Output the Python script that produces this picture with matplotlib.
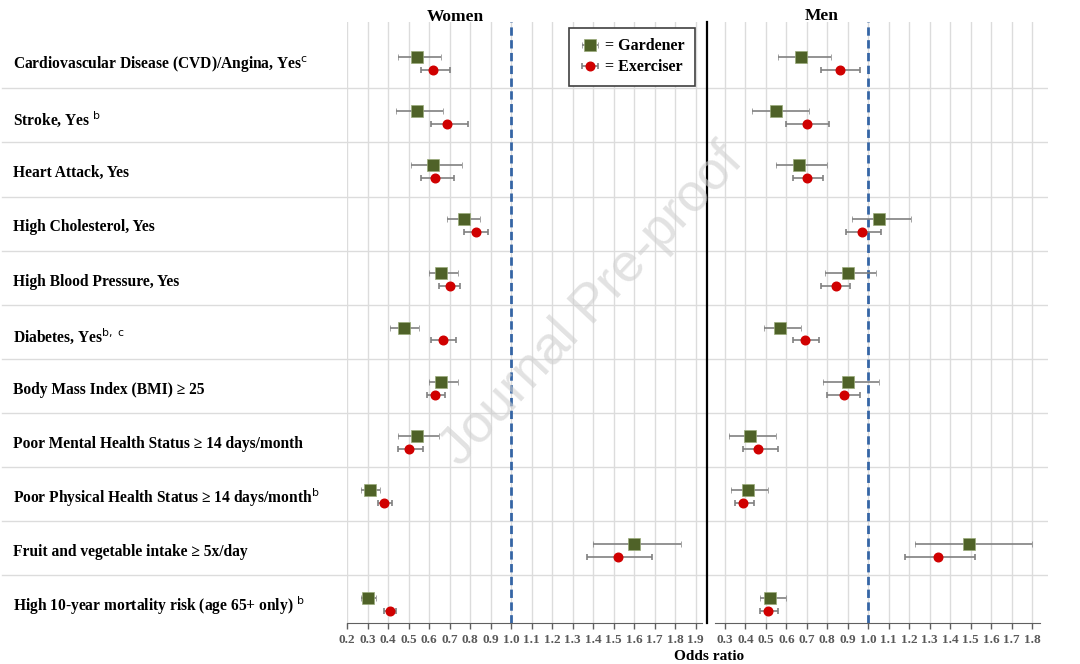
import matplotlib as mpl
mpl.use("Agg")
import matplotlib.pyplot as plt
import numpy as np

plt.rcParams['font.family'] = ['Liberation Serif', 'DejaVu Serif']
plt.rcParams['mathtext.fontset'] = 'dejavusans'

# row labels, top to bottom
labels = [
    r"Cardiovascular Disease (CVD)/Angina, Yes$^{\mathrm{c}}$",
    r"Stroke, Yes $^{\mathrm{b}}$",
    "Heart Attack, Yes",
    "High Cholesterol, Yes",
    "High Blood Pressure, Yes",
    r"Diabetes, Yes$^{\mathrm{b,\ c}}$",
    "Body Mass Index (BMI) ≥ 25",
    "Poor Mental Health Status ≥ 14 days/month",
    r"Poor Physical Health Status ≥ 14 days/month$^{\mathrm{b}}$",
    "Fruit and vegetable intake ≥ 5x/day",
    r"High 10-year mortality risk (age 65+ only) $^{\mathrm{b}}$",
]

# women: odds ratio, lower CI, upper CI
w_gard = [0.54, 0.54, 0.62, 0.77, 0.66, 0.48, 0.66, 0.54, 0.31, 1.60, 0.30]
w_gard_lo = [0.45, 0.44, 0.51, 0.69, 0.60, 0.41, 0.60, 0.45, 0.27, 1.40, 0.27]
w_gard_hi = [0.66, 0.67, 0.76, 0.85, 0.74, 0.55, 0.74, 0.65, 0.36, 1.83, 0.34]
w_exer = [0.62, 0.69, 0.63, 0.83, 0.70, 0.67, 0.63, 0.50, 0.38, 1.52, 0.41]
w_exer_lo = [0.56, 0.61, 0.56, 0.77, 0.65, 0.61, 0.59, 0.45, 0.35, 1.37, 0.38]
w_exer_hi = [0.70, 0.79, 0.72, 0.89, 0.75, 0.73, 0.68, 0.57, 0.42, 1.69, 0.44]

# men
m_gard = [0.67, 0.55, 0.66, 1.05, 0.90, 0.57, 0.90, 0.42, 0.41, 1.49, 0.52]
m_gard_lo = [0.56, 0.43, 0.55, 0.92, 0.79, 0.49, 0.78, 0.32, 0.33, 1.23, 0.47]
m_gard_hi = [0.82, 0.71, 0.80, 1.21, 1.04, 0.67, 1.05, 0.55, 0.51, 1.80, 0.60]
m_exer = [0.86, 0.70, 0.70, 0.97, 0.84, 0.69, 0.88, 0.46, 0.39, 1.34, 0.51]
m_exer_lo = [0.77, 0.60, 0.63, 0.89, 0.77, 0.63, 0.80, 0.39, 0.35, 1.18, 0.47]
m_exer_hi = [0.96, 0.81, 0.78, 1.06, 0.91, 0.76, 0.96, 0.56, 0.44, 1.52, 0.56]

w_ticks = np.round(np.arange(0.2, 1.91, 0.1), 1)
m_ticks = np.round(np.arange(0.3, 1.81, 0.1), 1)

green = '#4f6228'
red = '#d00000'
grid_c = '#dcdcdc'
err_c = '#808080'
blue = '#3565a5'

rows = np.arange(len(labels))
ylim = (10.342, -0.767)
bottom, top = 1 - 623 / 664, 1 - 22 / 664

fig = plt.figure(figsize=(10.8, 6.64), dpi=100)
ax_lab = fig.add_axes([0, bottom, 347 / 1080, top - bottom])
ax_w = fig.add_axes([347 / 1080, bottom, 360 / 1080, top - bottom])
ax_m = fig.add_axes([707 / 1080, bottom, 341 / 1080, top - bottom])

# label column
ax_lab.set_xlim(0, 1)
ax_lab.set_ylim(*ylim)
ax_lab.axis('off')
for sep in rows[:-1] + 0.46:
    ax_lab.axhline(sep, color=grid_c, lw=1, xmin=0.005)
for i, lab in enumerate(labels):
    ax_lab.text(13 / 347, i + 0.03, lab, fontsize=11.2, fontweight='bold',
                va='center', ha='left')


def panel(ax, ticks, xlim, bounds, gard, glo, ghi, exer, elo, ehi):
    ax.set_xlim(*xlim)
    ax.set_ylim(*ylim)
    for t in ticks:
        ax.axvline(t, color=grid_c, lw=1, zorder=0)
    for sep in rows[:-1] + 0.46:
        ax.axhline(sep, color=grid_c, lw=1, zorder=0)
    ax.axvline(1.0, color=blue, lw=2, ls=(0, (3, 1.6)), zorder=1)
    g = np.array(gard)
    e = np.array(exer)
    ax.errorbar(g, rows - 0.12, xerr=[g - np.array(glo), np.array(ghi) - g],
                fmt='s', color=green, ms=8.5, mec='#9aab7a', mew=0.5,
                ecolor=err_c, elinewidth=1.2, capsize=2.5, capthick=1.2,
                zorder=3, label='= Gardener')
    ax.errorbar(e, rows + 0.12, xerr=[e - np.array(elo), np.array(ehi) - e],
                fmt='o', color=red, ms=6.2, mec=red,
                ecolor=err_c, elinewidth=1.2, capsize=2.5, capthick=1.2,
                zorder=3, label='= Exerciser')
    ax.set_yticks([])
    ax.set_xticks(ticks)
    ax.set_xticklabels([f"{t:.1f}" for t in ticks], fontsize=9.5,
                       fontweight='bold', color='#595959')
    ax.tick_params(axis='x', length=4, width=1, color='#606060', pad=4)
    for s in ['top', 'right']:
        ax.spines[s].set_visible(False)
    ax.spines['bottom'].set_color('#606060')
    ax.spines['bottom'].set_bounds(*bounds)


panel(ax_w, w_ticks, (0.2, 1.956), (0.2, 1.93),
      w_gard, w_gard_lo, w_gard_hi, w_exer, w_exer_lo, w_exer_hi)
ax_w.spines['left'].set_visible(False)

panel(ax_m, m_ticks, (0.212, 1.878), (0.25, 1.84),
      m_gard, m_gard_lo, m_gard_hi, m_exer, m_exer_lo, m_exer_hi)
ax_m.spines['left'].set_color('black')
ax_m.spines['left'].set_linewidth(1.6)

leg = ax_w.legend(loc='upper right', bbox_to_anchor=(0.967, 0.99),
                  borderaxespad=0, fancybox=False, framealpha=1,
                  edgecolor='#404040', handlelength=1.3, handletextpad=0.3,
                  borderpad=0.65, labelspacing=0.3,
                  prop={'weight': 'bold', 'size': 11.5})
leg.get_frame().set_linewidth(1.2)

fig.text(455 / 1080, 1 - 17 / 664, 'Women', ha='center', va='center',
         fontsize=12.5, fontweight='bold')
fig.text(822 / 1080, 1 - 16 / 664, 'Men', ha='center', va='center',
         fontsize=12.5, fontweight='bold')
fig.text(709 / 1080, 1 - 656 / 664, 'Odds ratio', ha='center', va='center',
         fontsize=11, fontweight='bold')

# watermark
fig.text(592 / 1080, 1 - 305 / 664, 'Journal Pre-proof', ha='center',
         va='center', rotation=47, fontsize=39, color='#cfcfcf', alpha=0.6,
         family='Liberation Sans', zorder=10)

fig.savefig('out.png', dpi=100)
